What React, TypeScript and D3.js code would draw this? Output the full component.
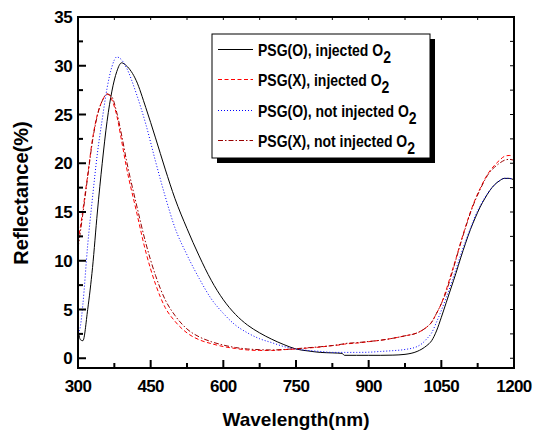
import React, { useEffect, useRef } from 'react';
import * as d3 from 'd3';

// wavelength grid shared by all four spectra (nm)
const wavelengths = [300, 305, 310, 320, 330, 340, 350, 360, 370, 380, 390, 400, 420, 440, 460, 480, 500, 525, 550, 575,
  600, 625, 650, 675, 700, 725, 750, 775, 800, 825, 845, 850, 875, 900, 925, 950, 975, 1000, 1010, 1020, 1030, 1040,
  1050, 1060, 1070, 1080, 1090, 1100, 1110, 1120, 1130, 1140, 1150, 1160, 1170, 1180, 1190, 1200];

// PSG(O), injected O2
const psgOInjected = [3.0, 1.9, 1.8, 5.0, 9.3, 15.0, 20.0, 24.3, 27.4, 29.4, 30.3, 30.0, 28.5, 25.7, 22.6, 19.4, 16.4, 13.3, 10.5, 8.0,
  6.0, 4.5, 3.4, 2.6, 1.95, 1.4, 0.95, 0.75, 0.6, 0.55, 0.5, 0.3, 0.3, 0.3, 0.3, 0.32, 0.4, 0.7, 0.95, 1.3, 1.8, 2.8,
  4.2, 5.7, 7.2, 8.7, 10.3, 11.8, 13.2, 14.4, 15.5, 16.4, 17.2, 17.8, 18.2, 18.45, 18.45, 18.3];

// PSG(X), injected O2
const psgXInjected = [12.1, 13.5, 15.2, 18.8, 22.5, 25.0, 26.4, 27.1, 26.5, 24.9, 22.3, 19.6, 15.2, 10.9, 7.6, 5.2, 3.8, 2.6, 1.9, 1.5,
  1.2, 1.0, 0.85, 0.8, 0.8, 0.88, 0.95, 1.05, 1.15, 1.3, 1.4, 1.45, 1.55, 1.7, 1.85, 2.05, 2.3, 2.6, 2.85, 3.2, 3.7, 4.6,
  5.6, 7.0, 8.6, 10.2, 11.9, 13.5, 15.0, 16.3, 17.4, 18.4, 19.2, 19.8, 20.3, 20.7, 20.8, 20.7];

// PSG(O), not injected O2
const psgONotInjected = [2.5, 3.3, 5.5, 11.6, 16.5, 21.0, 24.5, 27.7, 29.9, 30.9, 30.6, 29.8, 27.2, 24.0, 20.2, 16.6, 13.4, 10.6, 8.2, 6.1,
  4.6, 3.4, 2.6, 2.0, 1.6, 1.2, 0.95, 0.8, 0.7, 0.6, 0.6, 0.6, 0.6, 0.62, 0.7, 0.78, 0.9, 1.2, 1.5, 2.0, 2.6, 3.7,
  4.9, 6.2, 7.6, 9.1, 10.6, 12.0, 13.3, 14.6, 15.6, 16.5, 17.2, 17.8, 18.2, 18.45, 18.45, 18.3];

// PSG(X), not injected O2
const psgXNotInjected = [11.3, 13.0, 14.8, 18.6, 22.3, 24.9, 26.4, 27.1, 26.8, 25.2, 22.9, 20.3, 15.9, 11.8, 8.5, 6.0, 4.4, 3.0, 2.2, 1.7,
  1.35, 1.1, 0.95, 0.88, 0.85, 0.9, 0.98, 1.08, 1.18, 1.3, 1.45, 1.5, 1.6, 1.72, 1.85, 2.05, 2.3, 2.6, 2.85, 3.2, 3.7, 4.6,
  5.6, 6.8, 8.4, 10.1, 11.8, 13.4, 14.9, 16.2, 17.3, 18.3, 19.1, 19.6, 20.0, 20.3, 20.4, 20.3];

const seriesLabels = ['PSG(O), injected O', 'PSG(X), injected O', 'PSG(O), not injected O', 'PSG(X), not injected O'];
const xTicks = [300, 450, 600, 750, 900, 1050, 1200];
const yTicks = [0, 5, 10, 15, 20, 25, 30, 35];

export default function App() {
  const ref = useRef<SVGSVGElement>(null);

  useEffect(() => {
    const left = 78, right = 514, top = 17, bottom = 368;
    const font = 'Arial, "Liberation Sans", sans-serif';

    const svg = d3.select(ref.current);
    svg.selectAll('*').remove();

    const x = d3.scaleLinear().domain([300, 1200]).range([left, right]);
    const y = d3.scaleLinear().domain([-1, 35]).range([bottom, top]);

    const series = [
      { values: psgOInjected, color: '#000000', dash: null },
      { values: psgXInjected, color: '#ff0000', dash: '4,2.5' },
      { values: psgONotInjected, color: '#0000ff', dash: '1,2' },
      { values: psgXNotInjected, color: '#990000', dash: '5,2,1.5,2' },
    ];

    const line = d3.line<number>()
      .x((d, i) => x(wavelengths[i]))
      .y(d => y(d))
      .curve(d3.curveMonotoneX);

    const plot = svg.append('g');
    series.forEach(s => {
      plot.append('path')
        .attr('d', line(s.values))
        .attr('fill', 'none')
        .attr('stroke', s.color)
        .attr('stroke-width', 1)
        .attr('stroke-dasharray', s.dash);
    });

    // minor ticks between majors
    const xMinor = d3.range(375, 1200, 150);
    const yMinor = d3.range(2.5, 35, 5);

    const axes = svg.append('g').attr('stroke', '#000');
    xTicks.forEach(t => axes.append('line').attr('x1', x(t)).attr('x2', x(t)).attr('y1', bottom).attr('y2', bottom - 8).attr('stroke-width', 2));
    xMinor.forEach(t => axes.append('line').attr('x1', x(t)).attr('x2', x(t)).attr('y1', bottom).attr('y2', bottom - 5).attr('stroke-width', 2));
    yTicks.forEach(t => axes.append('line').attr('x1', left).attr('x2', left + 8).attr('y1', y(t)).attr('y2', y(t)).attr('stroke-width', 2));
    yMinor.forEach(t => axes.append('line').attr('x1', left).attr('x2', left + 5).attr('y1', y(t)).attr('y2', y(t)).attr('stroke-width', 2));
    // top and right: short inward ticks
    xTicks.concat(xMinor).forEach(t => axes.append('line').attr('x1', x(t)).attr('x2', x(t)).attr('y1', top).attr('y2', top + 3).attr('stroke-width', 1));
    yTicks.concat(yMinor).forEach(t => axes.append('line').attr('x1', right).attr('x2', right - 4).attr('y1', y(t)).attr('y2', y(t)).attr('stroke-width', 1));

    axes.append('rect')
      .attr('x', left).attr('y', top)
      .attr('width', right - left).attr('height', bottom - top)
      .attr('fill', 'none').attr('stroke-width', 2);

    const labels = svg.append('g').attr('font-family', font).attr('font-weight', 'bold').attr('fill', '#000');
    xTicks.forEach(t => labels.append('text').attr('x', x(t)).attr('y', 392).attr('text-anchor', 'middle')
      .attr('font-size', 17).attr('letter-spacing', -0.6).text(t));
    yTicks.forEach(t => labels.append('text').attr('x', 72).attr('y', y(t) + 6).attr('text-anchor', 'end')
      .attr('font-size', 17).attr('letter-spacing', -0.6).text(t));

    labels.append('text').attr('x', (left + right) / 2).attr('y', 426).attr('text-anchor', 'middle')
      .attr('font-size', 19).text('Wavelength(nm)');
    labels.append('text').attr('transform', 'translate(28,193) rotate(-90)').attr('text-anchor', 'middle')
      .attr('font-size', 20).text('Reflectance(%)');

    // legend with drop shadow
    const lg = svg.append('g');
    lg.append('rect').attr('x', 217).attr('y', 39).attr('width', 218).attr('height', 124).attr('fill', '#000');
    lg.append('rect').attr('x', 212).attr('y', 34).attr('width', 218).attr('height', 124)
      .attr('fill', '#fff').attr('stroke', '#000').attr('stroke-width', 1);
    const baselines = [55.5, 86, 117, 147];
    const sampleY = [49.5, 79.5, 110.5, 140.5];
    series.forEach((s, i) => {
      lg.append('line').attr('x1', 218).attr('x2', 253).attr('y1', sampleY[i]).attr('y2', sampleY[i])
        .attr('stroke', s.color).attr('stroke-width', 1).attr('stroke-dasharray', s.dash);
      // legend lettering is tall and narrow in the original
      const t = lg.append('text').attr('transform', `translate(258,${baselines[i]}) scale(1,1.2)`)
        .attr('font-family', font).attr('font-weight', 'bold').attr('font-size', 14).attr('fill', '#000');
      t.append('tspan').text(seriesLabels[i]);
      t.append('tspan').attr('dy', 6).attr('font-size', 14).text('2');
    });
  }, []);

  return (
    <svg ref={ref} width={535} height={435} style={{ position: 'absolute', left: 0, top: 0, background: '#fff' }} />
  );
}
